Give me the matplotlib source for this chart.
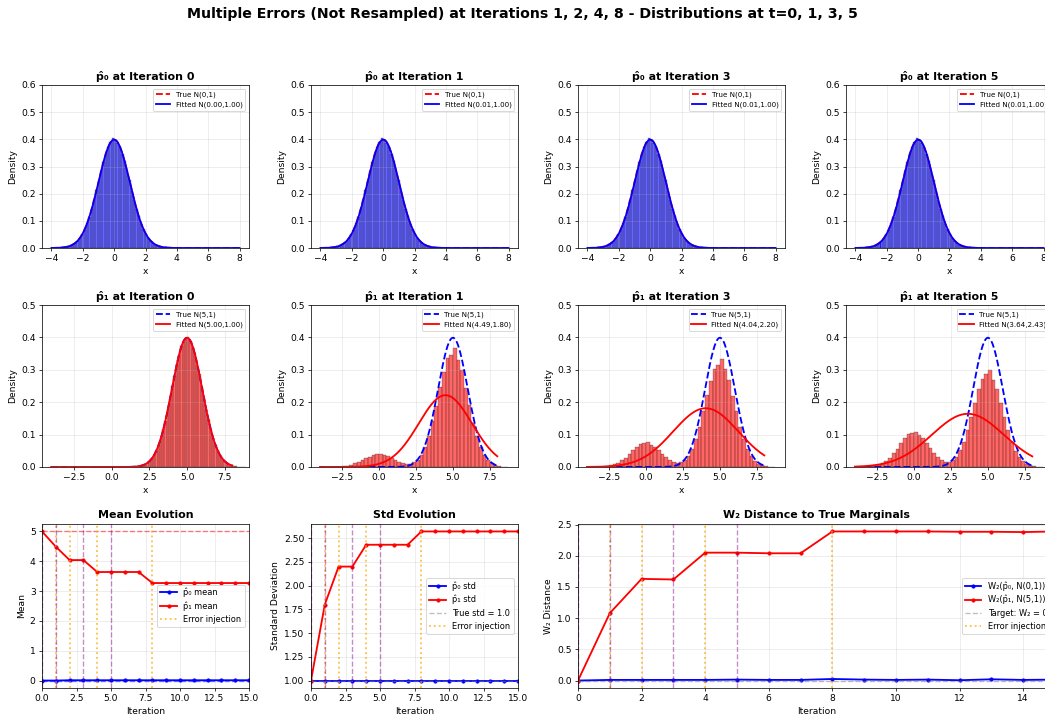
import numpy as np
import matplotlib
matplotlib.use("Agg")
import matplotlib.pyplot as plt

# ---- data ----
iterations = list(range(16))
snapshot_iters = [0, 1, 3, 5]
error_iters = [1, 2, 4, 8]

# fitted (mean, std) shown in the legends
p0_fit = [(0.00, 1.00), (0.01, 1.00), (0.01, 1.00), (0.01, 1.00)]
p1_fit = [(5.00, 1.00), (4.49, 1.80), (4.04, 2.20), (3.64, 2.43)]

# histogram of p0 samples, 52 bins from -3.9 (width 0.15)
p0_hist = [0.000, 0.001, 0.001, 0.001, 0.002, 0.004, 0.006, 0.008, 0.013, 0.019, 0.027, 0.037, 0.052,
           0.068, 0.091, 0.115, 0.145, 0.176, 0.213, 0.247, 0.285, 0.316, 0.349, 0.371, 0.391, 0.405,
           0.397, 0.388, 0.373, 0.346, 0.319, 0.282, 0.249, 0.211, 0.178, 0.143, 0.116, 0.089, 0.069,
           0.051, 0.038, 0.026, 0.019, 0.012, 0.009, 0.005, 0.004, 0.002, 0.001, 0.001, 0.000, 0.000]
p0_hist_start, p0_hist_width = -3.9, 0.15

# histogram of p1 samples at t=0, 52 bins from 1.1 (width 0.15)
p1_hist_t0 = [0.000, 0.000, 0.001, 0.001, 0.002, 0.003, 0.005, 0.009, 0.012, 0.019, 0.027, 0.038, 0.050,
              0.069, 0.089, 0.116, 0.143, 0.178, 0.210, 0.250, 0.282, 0.319, 0.346, 0.374, 0.387, 0.399,
              0.401, 0.390, 0.370, 0.349, 0.316, 0.286, 0.246, 0.213, 0.176, 0.146, 0.114, 0.091, 0.068,
              0.052, 0.037, 0.027, 0.018, 0.013, 0.008, 0.006, 0.003, 0.002, 0.001, 0.001, 0.000, 0.000]
p1_t0_start, p1_t0_width = 1.1, 0.15

# histograms of p1 samples at t=1,3,5: 51 bins from -4 (width 0.25)
p1_hist_t1 = [0.000, 0.000, 0.000, 0.000, 0.001, 0.001, 0.003, 0.004, 0.007, 0.011, 0.015, 0.022, 0.027,
              0.031, 0.036, 0.041, 0.039, 0.037, 0.033, 0.028, 0.021, 0.016, 0.012, 0.009, 0.010, 0.014,
              0.023, 0.038, 0.063, 0.095, 0.141, 0.189, 0.246, 0.292, 0.337, 0.345, 0.366, 0.331, 0.298,
              0.243, 0.192, 0.137, 0.097, 0.061, 0.038, 0.021, 0.012, 0.006, 0.003, 0.001, 0.001]
p1_hist_t3 = [0.000, 0.000, 0.000, 0.001, 0.001, 0.002, 0.005, 0.008, 0.013, 0.021, 0.029, 0.041, 0.052,
              0.061, 0.072, 0.074, 0.076, 0.069, 0.063, 0.051, 0.041, 0.030, 0.021, 0.015, 0.013, 0.015,
              0.022, 0.035, 0.057, 0.086, 0.125, 0.172, 0.221, 0.264, 0.303, 0.314, 0.333, 0.301, 0.267,
              0.219, 0.173, 0.125, 0.087, 0.055, 0.034, 0.019, 0.010, 0.005, 0.002, 0.001, 0.001]
p1_hist_t5 = [0.000, 0.000, 0.000, 0.001, 0.002, 0.003, 0.006, 0.011, 0.019, 0.029, 0.042, 0.057, 0.074,
              0.088, 0.101, 0.106, 0.108, 0.100, 0.089, 0.073, 0.058, 0.042, 0.030, 0.021, 0.016, 0.016,
              0.021, 0.032, 0.051, 0.078, 0.114, 0.155, 0.198, 0.240, 0.272, 0.287, 0.299, 0.270, 0.240,
              0.199, 0.154, 0.113, 0.078, 0.050, 0.030, 0.017, 0.009, 0.005, 0.002, 0.001, 0.000]
p1_mix_start, p1_mix_width = -4.0, 0.25

p0_mean = [0.00, 0.00, 0.01, 0.01, 0.01, 0.01, 0.01, 0.01, 0.01, 0.01, 0.01, 0.01, 0.01, 0.01, 0.01, 0.01]
p1_mean = [5.00, 4.49, 4.04, 4.04, 3.64, 3.64, 3.64, 3.64, 3.27, 3.27, 3.27, 3.27, 3.27, 3.27, 3.27, 3.27]
p0_std = [1.00, 1.00, 1.00, 1.00, 1.00, 1.00, 1.00, 1.00, 1.00, 1.00, 1.00, 1.00, 1.00, 1.00, 1.00, 1.00]
p1_std = [1.00, 1.80, 2.20, 2.20, 2.43, 2.43, 2.43, 2.43, 2.57, 2.57, 2.57, 2.57, 2.57, 2.57, 2.57, 2.57]
w2_p0 = [0.000, 0.010, 0.010, 0.010, 0.010, 0.015, 0.010, 0.010, 0.025, 0.015, 0.010, 0.015, 0.005, 0.020, 0.010, 0.015]
w2_p1 = [0.00, 1.08, 1.63, 1.62, 2.05, 2.05, 2.04, 2.04, 2.39, 2.39, 2.39, 2.39, 2.385, 2.385, 2.38, 2.39]


def npdf(x, m, s):
    return np.exp(-0.5 * ((x - m) / s) ** 2) / (s * np.sqrt(2 * np.pi))


def draw_hist(ax, heights, start, width, color):
    n = len(heights)
    edges = start + width * np.arange(n + 1)
    centers = 0.5 * (edges[:-1] + edges[1:])
    ax.hist(centers, bins=edges, weights=heights, color=color, alpha=0.6,
            edgecolor='black', linewidth=0.4)


DPI = 66
W, H = 1045.0, 719.0
fig = plt.figure(figsize=(W / DPI, H / DPI), dpi=DPI)
col_left = [42, 311, 578, 846]
col_w = 207
rows = [(85, 248), (305, 467), (524, 688)]


def make_ax(x0, x1, row):
    y0, y1 = rows[row]
    return fig.add_axes([x0 / W, 1 - y1 / H, (x1 - x0) / W, (y1 - y0) / H])


xs = np.linspace(-4, 8, 400)

# row 1: p0
for i, t in enumerate(snapshot_iters):
    ax = make_ax(col_left[i], col_left[i] + col_w, 0)
    draw_hist(ax, p0_hist, p0_hist_start, p0_hist_width, 'blue')
    m, s = p0_fit[i]
    ax.plot(xs, npdf(xs, 0, 1), 'r--', lw=2, label='True N(0,1)')
    ax.plot(xs, npdf(xs, m, s), 'b-', lw=2, label=f'Fitted N({m:.2f},{s:.2f})')
    ax.set_title(f'p̂₀ at Iteration {t}', fontsize=12, fontweight='bold')
    ax.set_xlabel('x', fontsize=10)
    ax.set_ylabel('Density', fontsize=10)
    ax.set_xlim(-4.6, 8.6)
    ax.set_ylim(0, 0.6)
    ax.set_xticks([-4, -2, 0, 2, 4, 6, 8])
    ax.legend(fontsize=7.8, loc='upper right')
    ax.grid(True, alpha=0.3)

# row 2: p1
p1_hists = [(p1_hist_t0, p1_t0_start, p1_t0_width),
            (p1_hist_t1, p1_mix_start, p1_mix_width),
            (p1_hist_t3, p1_mix_start, p1_mix_width),
            (p1_hist_t5, p1_mix_start, p1_mix_width)]
p1_xlims = [(-4.6, 9.1), (-4.6, 9.4), (-4.6, 9.4), (-4.6, 9.4)]
for i, t in enumerate(snapshot_iters):
    ax = make_ax(col_left[i], col_left[i] + col_w, 1)
    h, st, wd = p1_hists[i]
    draw_hist(ax, h, st, wd, 'red')
    m, s = p1_fit[i]
    ax.plot(xs, npdf(xs, 5, 1), 'b--', lw=2, label='True N(5,1)')
    ax.plot(xs, npdf(xs, m, s), 'r-', lw=2, label=f'Fitted N({m:.2f},{s:.2f})')
    ax.set_title(f'p̂₁ at Iteration {t}', fontsize=12, fontweight='bold')
    ax.set_xlabel('x', fontsize=10)
    ax.set_ylabel('Density', fontsize=10)
    ax.set_xlim(*p1_xlims[i])
    ax.set_ylim(0, 0.5)
    ax.set_xticks([-2.5, 0, 2.5, 5.0, 7.5])
    ax.legend(fontsize=7.8, loc='upper right')
    ax.grid(True, alpha=0.3)


def mark_iters(ax):
    for k, e in enumerate(error_iters):
        ax.axvline(e, color='orange', ls=':', lw=2, alpha=0.7,
                   label='Error injection' if k == 0 else None)
    for s in snapshot_iters:
        ax.axvline(s, color='purple', ls='--', lw=1.5, alpha=0.45)


# row 3: mean
ax = make_ax(col_left[0], col_left[0] + col_w, 2)
ax.plot(iterations, p0_mean, 'b-o', lw=2, ms=3.5, label='p̂₀ mean')
ax.plot(iterations, p1_mean, 'r-o', lw=2, ms=3.5, label='p̂₁ mean')
ax.axhline(0, color='blue', ls='--', alpha=0.5)
ax.axhline(5, color='red', ls='--', alpha=0.5)
mark_iters(ax)
ax.set_xlim(0, 15)
ax.set_xticks([0, 2.5, 5.0, 7.5, 10.0, 12.5, 15.0])
ax.set_title('Mean Evolution', fontsize=12, fontweight='bold')
ax.set_xlabel('Iteration', fontsize=10)
ax.set_ylabel('Mean', fontsize=10)
ax.legend(loc='center right', fontsize=9)
ax.grid(True, alpha=0.3)

# row 3: std
ax = make_ax(col_left[1], col_left[1] + col_w, 2)
ax.plot(iterations, p0_std, 'b-o', lw=2, ms=3.5, label='p̂₀ std')
ax.plot(iterations, p1_std, 'r-o', lw=2, ms=3.5, label='p̂₁ std')
ax.axhline(1.0, color='gray', ls='--', alpha=0.5, label='True std = 1.0')
mark_iters(ax)
ax.set_xlim(0, 15)
ax.set_xticks([0, 2.5, 5.0, 7.5, 10.0, 12.5, 15.0])
ax.set_yticks([1.00, 1.25, 1.50, 1.75, 2.00, 2.25, 2.50])
ax.set_yticklabels(['1.00', '1.25', '1.50', '1.75', '2.00', '2.25', '2.50'])
ax.set_title('Std Evolution', fontsize=12, fontweight='bold')
ax.set_xlabel('Iteration', fontsize=10)
ax.set_ylabel('Standard Deviation', fontsize=10)
ax.legend(loc='center right', fontsize=9)
ax.grid(True, alpha=0.3)

# row 3: W2
ax = make_ax(col_left[2], col_left[3] + col_w + 2, 2)
ax.plot(iterations, w2_p0, 'b-o', lw=2, ms=3.5, label='W₂(p̂₀, N(0,1))')
ax.plot(iterations, w2_p1, 'r-o', lw=2, ms=3.5, label='W₂(p̂₁, N(5,1))')
ax.axhline(0, color='gray', ls='--', alpha=0.5, label='Target: W₂ = 0')
mark_iters(ax)
ax.set_xlim(0, 15)
ax.set_xticks([0, 2, 4, 6, 8, 10, 12, 14])
ax.set_title('W₂ Distance to True Marginals', fontsize=12, fontweight='bold')
ax.set_xlabel('Iteration', fontsize=10)
ax.set_ylabel('W₂ Distance', fontsize=10)
ax.legend(loc='center right', fontsize=9)
ax.grid(True, alpha=0.3)

fig.text(0.5, 1 - 7 / H, 'Multiple Errors (Not Resampled) at Iterations 1, 2, 4, 8 - Distributions at t=0, 1, 3, 5',
         ha='center', va='top', fontsize=15.4, fontweight='bold')

fig.savefig('out.png', dpi=DPI)
